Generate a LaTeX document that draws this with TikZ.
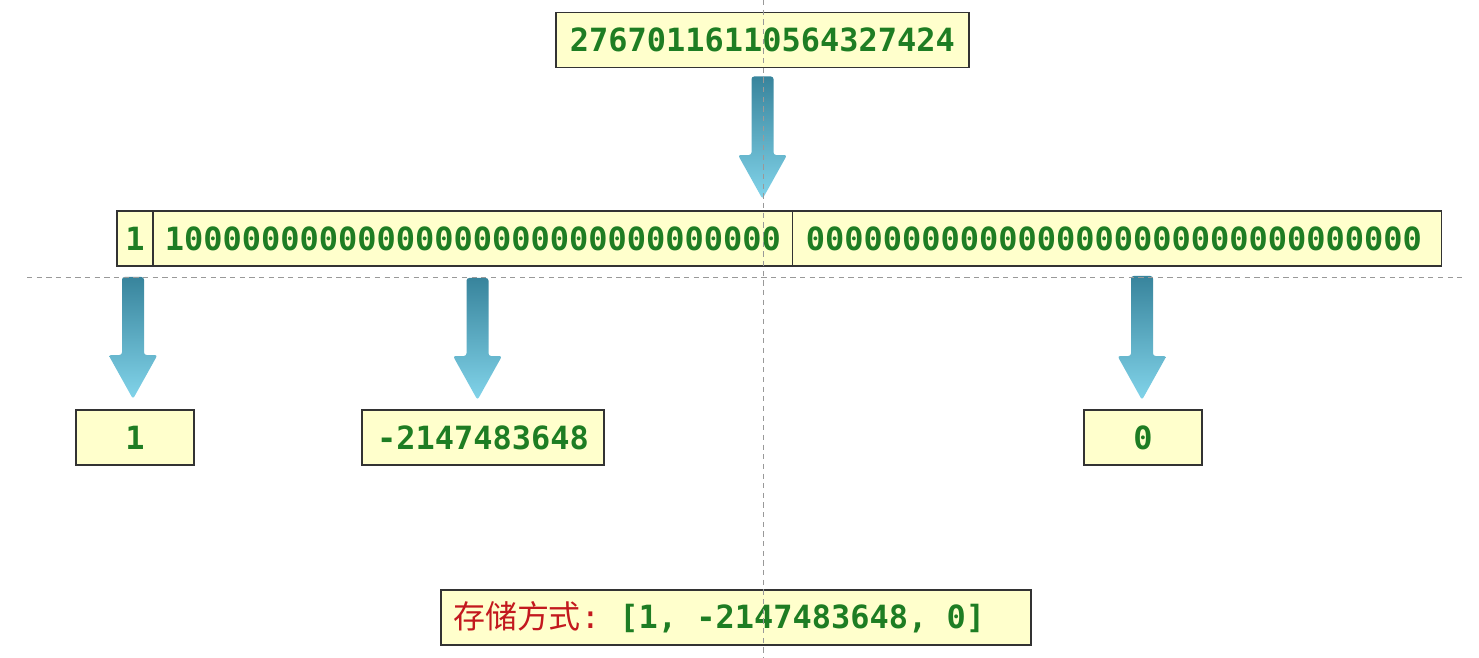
\documentclass[tikz,border=0pt]{standalone}
\usepackage{fontspec}
\setmonofont{DejaVu Sans Mono}
\newfontfamily\cjk{Noto Sans CJK SC}
\usetikzlibrary{positioning,calc}

\definecolor{boxyellow}{RGB}{255,255,204}
\definecolor{bitgreen}{RGB}{30,125,35}
\definecolor{labelred}{RGB}{195,25,30}
\definecolor{arrowtop}{RGB}{56,132,156}
\definecolor{arrowmid}{RGB}{78,170,198}
\definecolor{arrowlow}{RGB}{130,212,234}

\tikzset{
	numbox/.style={draw=black!80, line width=0.7pt, fill=boxyellow, text=bitgreen,
		font=\fontsize{18.2}{22}\selectfont\ttfamily\bfseries,
		inner sep=0pt, outer sep=0pt, minimum height=1.1cm},
	fatarrow/.style={top color=arrowtop, middle color=arrowmid, bottom color=arrowlow, rounded corners=1.5pt},
	guide/.style={draw=gray!80, line width=0.5pt, dash pattern=on 3pt off 2.5pt},
}

% one character cell of the mono font
\newcommand\monogap{\hspace*{0.602em}}

% vertical block arrow from #1 down to its tip #2
\newcommand\shadedarrow[2]{%
	\shade[fatarrow] ($(#1)+(-11,0)$) -- ($(#2)+(-11,-44)$) -- ($(#2)+(-24.5,-44)$) -- (#2)
		-- ($(#2)+(24.5,-44)$) -- ($(#2)+(11,-44)$) -- ($(#1)+(11,0)$) -- cycle;}

\begin{document}
\begin{tikzpicture}[x=0.02cm, y=-0.02cm]
		\useasboundingbox (0,0) rectangle (1479,658);
		
		\node[numbox, minimum width=8.26cm] (num) at (762.5,40) {27670116110564327424};
		
		\node[numbox, minimum width=0.72cm] (sign) at (135,238.5) {1};
		\node[numbox, minimum width=12.8cm, right=0cm of sign] (hi) {10000000000000000000000000000000};
		\node[numbox, inner xsep=0.26cm, text width=12.46cm, align=left, right=0cm of hi] (lo) {00000000000000000000000000000000};
		
		\node[numbox, minimum width=2.36cm] (outsign) at (135,437.5) {1};
		\node[numbox, minimum width=4.84cm] (outhi) at (483,437.5) {-2147483648};
		\node[numbox, minimum width=2.36cm] (outlo) at (1143,437.5) {0};
		
		\node[numbox, minimum width=11.8cm, inner xsep=0.24cm, text width=11.32cm, align=left] (store) at (736,617.5)
			{{\cjk\mdseries\color{labelred}存储方式}{\mdseries\color{labelred}:}\monogap[1,\monogap-2147483648,\monogap0]};
		
		\coordinate (a0s) at ($(num.south)+(0,9)$);
		\coordinate (a0e) at ($(a0s |- hi.north)+(0,-12)$);
		\coordinate (a1s) at (133,277);
		\coordinate (a1e) at (133,399);
		\coordinate (a2s) at (477.5,278);
		\coordinate (a2e) at (477.5,400);
		\coordinate (a3s) at (1142,276);
		\coordinate (a3e) at (1142,400);
		
		\shadedarrow{a0s}{a0e}
		\shadedarrow{a1s}{a1e}
		\shadedarrow{a2s}{a2e}
		\shadedarrow{a3s}{a3e}
		
		\coordinate (vtop) at (763,0);
		\coordinate (vbot) at (763,658);
		\coordinate (hleft) at (27,277);
		\coordinate (hright) at (1462,277);
		\draw[guide] (vtop) -- (vbot);
		\draw[guide] (hleft) -- (hright);
	\end{tikzpicture}
\end{document}
